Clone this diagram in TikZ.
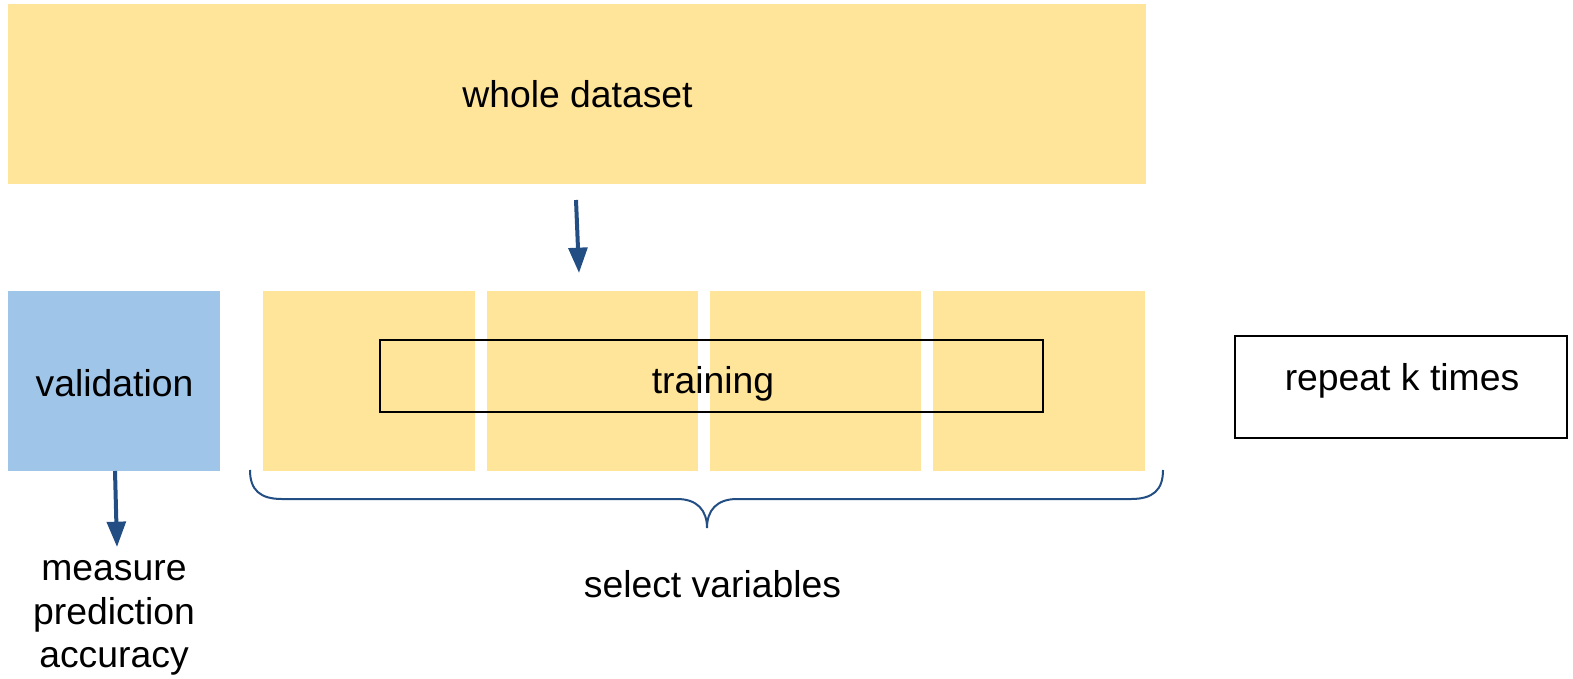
\documentclass[tikz,border=0pt]{standalone}
\usepackage{fontspec}
\setmainfont{Liberation Sans}
\usetikzlibrary{fit,arrows.meta}
\definecolor{paleyellow}{HTML}{FFE599}
\definecolor{paleblue}{HTML}{9FC5E8}
\definecolor{arrowblue}{HTML}{234E84}
\tikzset{
  every node/.style={font=\fontsize{28}{32.5}\selectfont},
  block/.style={fill=paleyellow, draw=none, inner sep=0pt},
  valbox/.style={fill=paleblue, draw=none, inner sep=0pt},
  framebox/.style={draw=black, line width=1.2pt, inner sep=0pt},
  lbl/.style={inner sep=0pt, anchor=base},
  flow/.style={draw=arrowblue, line width=3pt, -{Triangle[width=14pt,length=19pt]}},
  bracepath/.style={draw=arrowblue, line width=1.5pt},
}
\begin{document}
\begin{tikzpicture}[x=0.75pt,y=-0.75pt]
\useasboundingbox (0,0) rectangle (1573,678);
\node[block, fit={(8,4)(1146,184)}] (whole) {};
\node[lbl] (wholet) at (577.5,107) {whole dataset};
\node[valbox, fit={(8,291)(220,471)}] (val) {};
\node[lbl] (valt) at (114.5,396) {validation};
\node[block, fit={(263,291)(475,471)}] (p1) {};
\node[block, fit={(487,291)(698,471)}] (p2) {};
\node[block, fit={(710,291)(921,471)}] (p3) {};
\node[block, fit={(933,291)(1145,471)}] (p4) {};
\node[framebox, fit={(380,340)(1043,412)}] (train) {};
\node[lbl] (traint) at (713,393) {training};
\node[framebox, fit={(1235,336)(1567,438)}] (repeat) {};
\node[lbl] (repeatt) at (1402,390) {repeat k times};
\coordinate (a1s) at (576,200);
\coordinate (a1e) at (579,273);
\draw[flow] (a1s) -- (a1e);
\node[align=center, inner sep=0pt] (measure) at (114,618) {measure\\prediction\\accuracy};
\coordinate (a2s) at (115,471);
\coordinate (a2e) at (117,547);
\draw[flow] (a2s) -- (a2e);
\node[lbl] (select) at (712.5,597) {select variables};
\draw[bracepath] (250,470) .. controls (250,490) and (260,499) .. (282,499) -- (677,499)
  .. controls (697,499) and (707,510) .. (707,528)
  .. controls (707,510) and (717,499) .. (737,499) -- (1131,499)
  .. controls (1153,499) and (1163,490) .. (1163,470);
\end{tikzpicture}
\end{document}
